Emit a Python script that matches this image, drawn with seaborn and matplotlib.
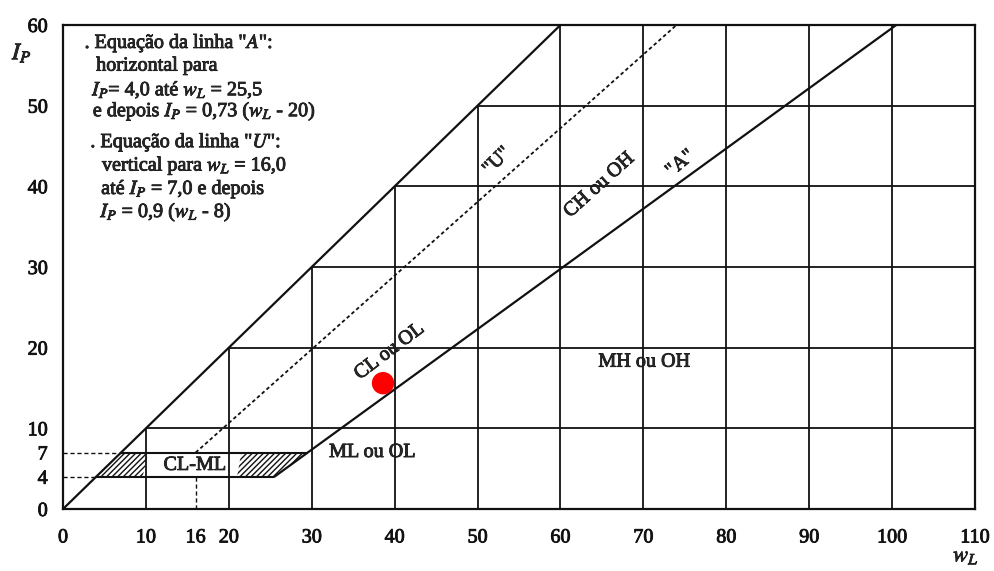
import numpy as np
import pandas as pd
import matplotlib
matplotlib.use("Agg")
import matplotlib.pyplot as plt
import matplotlib.patheffects as pe
import seaborn as sns

# carta de plasticidade (Casagrande)
x_ticks = [0, 10, 16, 20, 30, 40, 50, 60, 70, 80, 90, 100, 110]
y_ticks = [0, 4, 7, 10, 20, 30, 40, 50, 60]
grid_x = [10, 20, 30, 40, 50, 60, 70, 80, 90, 100]
grid_y = [10, 20, 30, 40, 50]

diag_wl = [0, 60]
diag_ip = [0, 60]
a_wl = [25.5, 100.5]
a_ip = [4, 60]
u_wl = [16, 74]
u_ip = [7, 60]

# zona CL-ML
cl_bottom_wl = [4, 25.5]
cl_top_wl = [7, 29.6]
hatch_left_wl = [4, 7, 10.3, 9.6]
hatch_left_ip = [4, 7, 7, 4]
hatch_right_wl = [21, 21.5, 29.6, 25.5]
hatch_right_ip = [4, 7, 7, 4]

ponto_wl = [38.6]
ponto_ip = [15.6]

sns.set_theme(style="white")
plt.rcParams['font.family'] = ['Liberation Serif', 'DejaVu Serif']
plt.rcParams['mathtext.fontset'] = 'stix'
plt.rcParams['hatch.linewidth'] = 1.0

fig = plt.figure(figsize=(9.95, 5.71), dpi=100)
ax = fig.add_axes([63/995, 1-509/571, (975-63)/995, (509-25)/571])
ax.set_xlim(0, 110)
ax.set_ylim(0, 60)

preto = '#111111'
# tinta mais grossa, como no original digitalizado
grosso = [pe.withStroke(linewidth=0.6, foreground=preto)]

# grelha so abaixo da linha wL = IP
ax.vlines(grid_x, 0, np.minimum(grid_x, 60), color=preto, lw=1.3)
ax.hlines(grid_y, grid_y, 110, color=preto, lw=1.3)

sns.lineplot(x=diag_wl, y=diag_ip, ax=ax, color=preto, lw=1.6)
sns.lineplot(x=a_wl, y=a_ip, ax=ax, color=preto, lw=1.6)
sns.lineplot(x=u_wl, y=u_ip, ax=ax, color=preto, lw=1.3, linestyle=(0, (2, 1.5)))

ax.hlines([4], cl_bottom_wl[0], cl_bottom_wl[1], color=preto, lw=1.5)
ax.hlines([7], cl_top_wl[0], cl_top_wl[1], color=preto, lw=1.5)
ax.hlines([4], 0, 4, color=preto, lw=1.0, linestyles=(0, (3, 2)))
ax.hlines([7], 0, 7, color=preto, lw=1.0, linestyles=(0, (3, 2)))
ax.vlines([16], 0, 4, color=preto, lw=1.0, linestyles=(0, (3, 2)))

ax.fill(hatch_left_wl, hatch_left_ip, facecolor='none', edgecolor=preto, hatch='//////', lw=0)
ax.fill(hatch_right_wl, hatch_right_ip, facecolor='none', edgecolor=preto, hatch='//////', lw=0)

sns.scatterplot(x=ponto_wl, y=ponto_ip, ax=ax, color='#ff0000', s=260, edgecolor='none', zorder=5)

fs = 14.5
kw = dict(fontsize=fs, path_effects=grosso)
ax.text(15.9, 5.4, 'CL-ML', ha='center', va='center', **kw)
ax.text(37.3, 7.0, 'ML ou OL', ha='center', va='center', **kw)
ax.text(70.1, 18.2, 'MH ou OH', ha='center', va='center', **kw)
ax.text(39.4, 19.5, 'CL ou OL', ha='center', va='center', rotation=37, **kw)
ax.text(64.7, 40.1, 'CH ou OH', ha='center', va='center', rotation=42, **kw)
ax.text(52.4, 43.1, '"U"', ha='center', va='center', rotation=45, **kw)
ax.text(74.5, 42.8, '"A"', ha='center', va='center', rotation=40, **kw)

# equacoes
ax.text(2.6, 57.7, '. Equação da linha "$A$":', va='center', **kw)
ax.text(4.0, 54.9, 'horizontal para', va='center', **kw)
ax.text(3.5, 51.9, '$I_P$= 4,0 até $w_L$ = 25,5', va='center', **kw)
ax.text(3.6, 49.3, 'e depois $I_P$ = 0,73 ($w_L$ - 20)', va='center', **kw)
ax.text(3.3, 45.4, '. Equação da linha "$U$":', va='center', **kw)
ax.text(4.7, 42.5, 'vertical para $w_L$ = 16,0', va='center', **kw)
ax.text(4.6, 39.6, 'até $I_P$ = 7,0 e depois', va='center', **kw)
ax.text(4.5, 36.8, '$I_P$ = 0,9 ($w_L$ - 8)', va='center', **kw)

ax.set_xticks(x_ticks)
ax.set_yticks(y_ticks)
ax.set_xticklabels([str(v) for v in x_ticks])
ax.set_yticklabels([str(v) for v in y_ticks])
ax.tick_params(axis='x', length=0, pad=14, labelsize=14.5, colors=preto)
ax.tick_params(axis='y', direction='in', length=6, width=1.3, pad=11, labelsize=14.5, colors=preto)
for lab in ax.get_xticklabels() + ax.get_yticklabels():
    lab.set_path_effects(grosso)
ax.set_xlabel('')
ax.set_ylabel('')
for s in ax.spines.values():
    s.set_color(preto)
    s.set_linewidth(1.6)
    s.set_visible(True)

fig.text(22/995, 1-53/571, '$I_P$', fontsize=17, ha='center', va='center', path_effects=grosso)
fig.text(966/995, 1-557/571, '$w_L$', fontsize=16, ha='center', va='center', path_effects=grosso)

fig.savefig('out.png', dpi=100)
